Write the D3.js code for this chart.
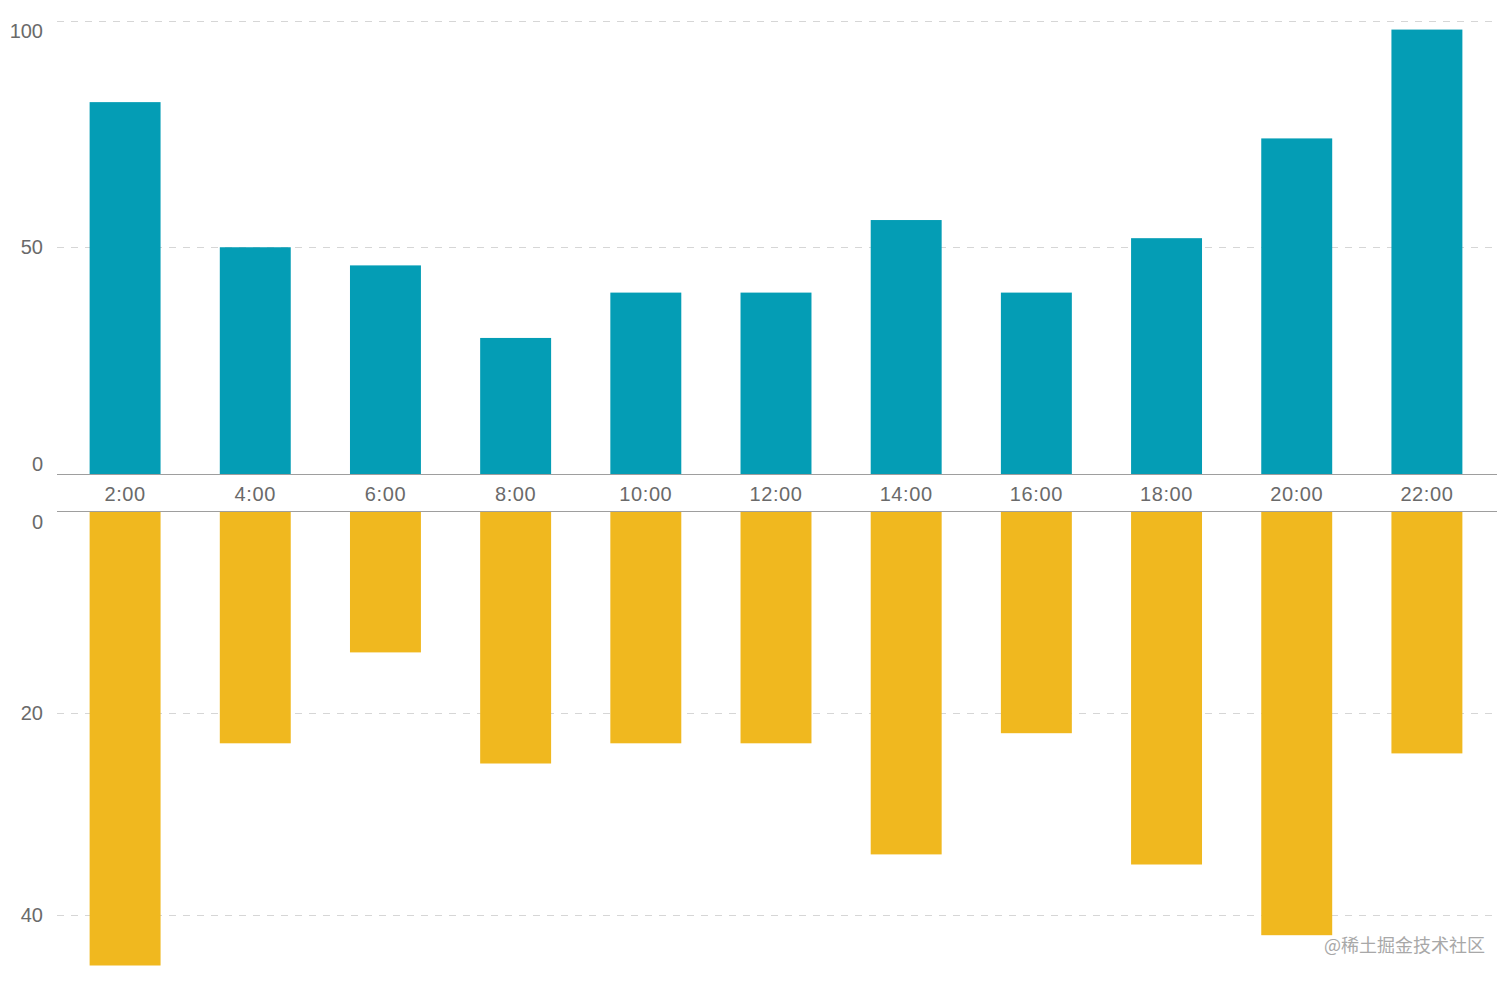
<!DOCTYPE html>
<html>
<head>
<meta charset="utf-8">
<script src="https://cdn.jsdelivr.net/npm/d3@7/dist/d3.min.js"></script>
<style>
  html, body { margin: 0; padding: 0; background: #ffffff; }
  svg { display: block; }
  .tick text { font-family: "Liberation Sans", Arial, sans-serif; font-size: 20px; fill: #6a6a6a; }
</style>
</head>
<body>
<svg id="chart" width="1512" height="983"></svg>
<script>
// Hourly categories and the two mirrored series
const hours = ["2:00", "4:00", "6:00", "8:00", "10:00", "12:00", "14:00", "16:00", "18:00", "20:00", "22:00"];
const upperValues = [82, 50, 46, 30, 40, 40, 56, 40, 52, 74, 98];
const lowerValues = [45, 23, 14, 25, 23, 23, 34, 22, 35, 42, 24];
const upperTicks = [0, 50, 100];
const lowerTicks = [0, 20, 40];
const upperDomain = [0, 100];
const lowerDomain = [0, 45];

const upperColor = "#049db5";
const lowerColor = "#f0b81f";

const svg = d3.select("#chart");

const left = 57, right = 1497;
const upperTop = 20.5, upperBase = 474;
const lowerBase = 511, lowerBottom = 965.5;

const x = d3.scaleBand()
  .domain(hours)
  .range([60, 1492])
  .paddingInner(0.455)
  .paddingOuter(0.2275);

const yUpper = d3.scaleLinear().domain(upperDomain).range([upperBase, upperTop]);
const yLower = d3.scaleLinear().domain(lowerDomain).range([lowerBase, lowerBottom]);

// Dashed gridlines (non-zero ticks only)
function grid(scale, ticks) {
  const g = svg.append("g")
    .attr("transform", `translate(${left},0)`)
    .call(d3.axisLeft(scale)
      .tickValues(ticks.filter(t => t !== 0))
      .tickSize(-(right - left))
      .tickFormat(""));
  g.select(".domain").remove();
  g.selectAll(".tick line")
    .attr("stroke", "#d6d6d6")
    .attr("stroke-width", 1)
    .attr("shape-rendering", "crispEdges")
    .attr("stroke-dasharray", "7,7");
}
grid(yUpper, upperTicks);
grid(yLower, lowerTicks);

// Bars
svg.append("g").selectAll("rect")
  .data(hours.map((h, i) => ({ h, v: upperValues[i] })))
  .join("rect")
  .attr("x", d => x(d.h))
  .attr("width", x.bandwidth())
  .attr("y", d => yUpper(d.v))
  .attr("height", d => yUpper(0) - yUpper(d.v))
  .attr("fill", upperColor);

svg.append("g").selectAll("rect")
  .data(hours.map((h, i) => ({ h, v: lowerValues[i] })))
  .join("rect")
  .attr("x", d => x(d.h))
  .attr("width", x.bandwidth())
  .attr("y", yLower(0))
  .attr("height", d => yLower(d.v) - yLower(0))
  .attr("fill", lowerColor);

// Baselines of both panels
[upperBase, lowerBase].forEach(yy => {
  svg.append("line")
    .attr("x1", left).attr("x2", right)
    .attr("y1", yy).attr("y2", yy)
    .attr("stroke", "#9e9e9e")
    .attr("stroke-width", 1)
    .attr("shape-rendering", "crispEdges");
});

// Y axis labels; labels at panel edges are pushed inside the panel
function yAxis(scale, ticks, insideDown) {
  const g = svg.append("g")
    .attr("transform", `translate(${left},0)`)
    .call(d3.axisLeft(scale).tickValues(ticks).tickSize(0).tickPadding(14));
  g.select(".domain").remove();
  g.selectAll(".tick text")
    .attr("font-family", null).attr("font-size", null)
    .attr("dy", d => {
      if (insideDown.includes(d)) return "17px";
      if (d === 0 && !insideDown.includes(0)) return "-4px";
      return "0.32em";
    });
}
yAxis(yUpper, upperTicks, [100]);
yAxis(yLower, lowerTicks, [0]);

// Category labels between the two panels
const xg = svg.append("g")
  .attr("transform", `translate(0,${upperBase})`)
  .call(d3.axisBottom(x).tickSize(0).tickPadding(12.5));
xg.select(".domain").remove();
xg.selectAll(".tick text")
  .attr("font-family", null).attr("font-size", null)
  .attr("letter-spacing", "0.6px");

// Site mark
svg.append("text")
  .attr("x", 1485)
  .attr("y", 952)
  .attr("text-anchor", "end")
  .attr("font-family", "'Noto Sans CJK SC', sans-serif")
  .attr("font-size", 18)
  .attr("fill", "#a8a8a8")
  .text("@稀土掘金技术社区");
</script>
</body>
</html>
